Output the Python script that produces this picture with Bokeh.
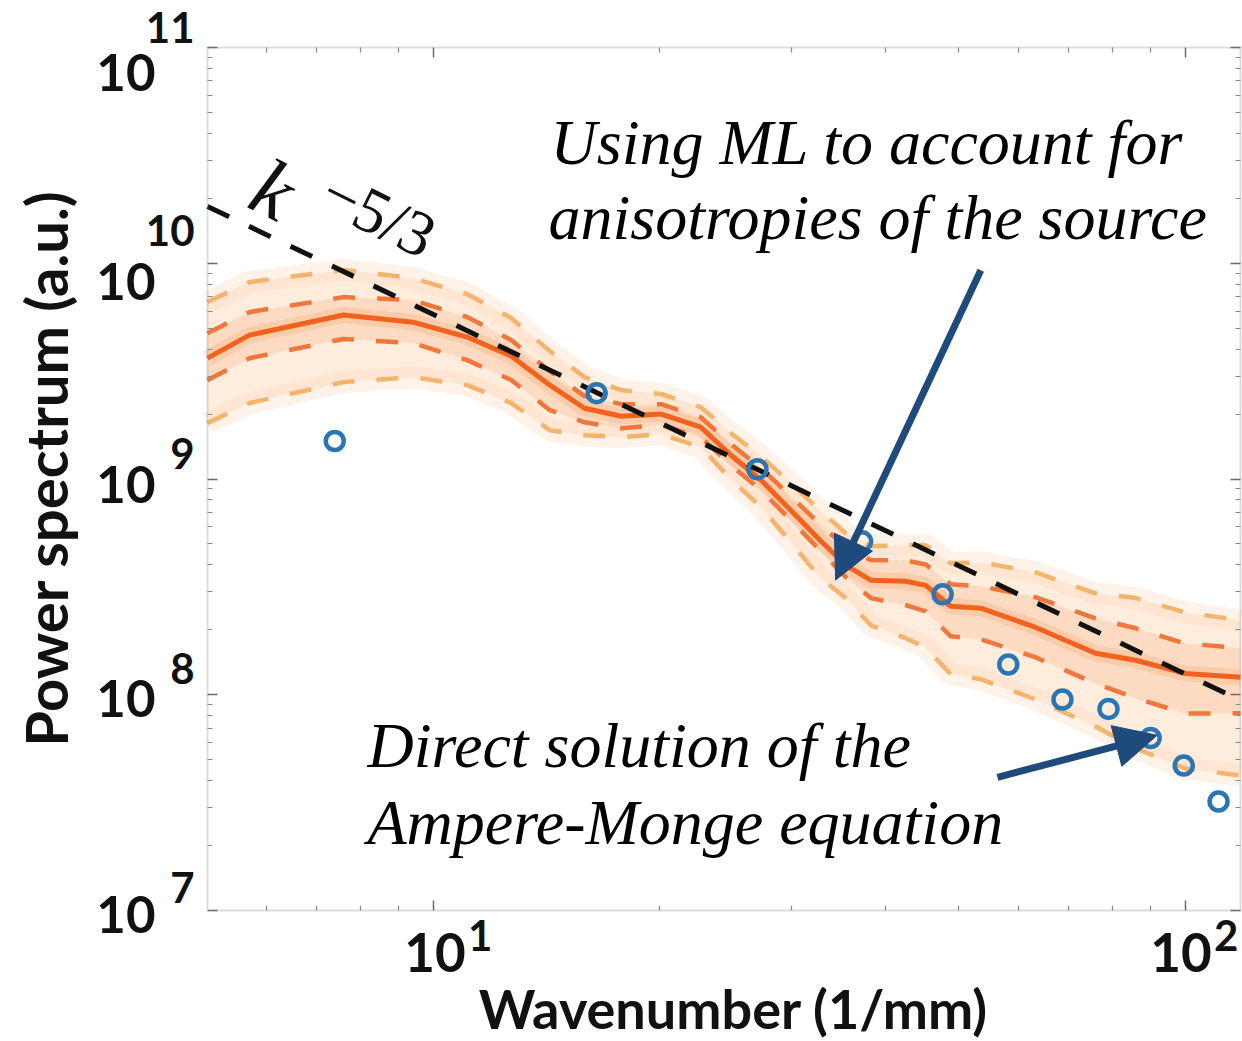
import numpy as np
from bokeh.plotting import figure
from bokeh.models import Range1d, LogAxis, FixedTicker, Label, Arrow, NormalHead, BoxAnnotation
from bokeh.embed import file_html
from bokeh.resources import INLINE

# ---------------- data ----------------
band_k = [5.01, 5.7, 7.6, 9.4, 11.1, 12.7, 14.3, 15.9, 17.8, 20.1, 22.7, 24.9, 27.3,
          29.9, 32.7, 35.4, 38.2, 42.5, 45.2, 48.8, 53.5, 63.2, 76.0, 86.0, 100.0, 118.5]
ml_mean_log10 = [9.560, 9.667, 9.760, 9.727, 9.658, 9.570, 9.435, 9.328, 9.291, 9.301,
                 9.240, 9.110, 8.994, 8.855, 8.716, 8.600, 8.531, 8.526, 8.507, 8.410,
                 8.401, 8.313, 8.192, 8.160, 8.099, 8.081]
ml_inner_up_log10 = [9.676, 9.774, 9.843, 9.829, 9.751, 9.644, 9.500, 9.384, 9.347, 9.347,
                     9.286, 9.161, 9.050, 8.920, 8.790, 8.683, 8.624, 8.623, 8.604, 8.512,
                     8.503, 8.452, 8.354, 8.308, 8.238, 8.216]
ml_inner_low_log10 = [9.458, 9.560, 9.649, 9.630, 9.551, 9.459, 9.319, 9.263, 9.235, 9.250,
                      9.194, 9.064, 8.948, 8.809, 8.670, 8.544, 8.448, 8.415, 8.386, 8.271,
                      8.257, 8.174, 8.053, 7.984, 7.913, 7.914]
ml_outer_up_log10 = [9.820, 9.913, 9.969, 9.931, 9.857, 9.746, 9.593, 9.472, 9.412, 9.394,
                     9.333, 9.212, 9.105, 8.980, 8.855, 8.748, 8.689, 8.693, 8.693, 8.609,
                     8.614, 8.568, 8.470, 8.448, 8.382, 8.345]
ml_outer_low_log10 = [9.259, 9.352, 9.449, 9.472, 9.435, 9.352, 9.226, 9.203, 9.194, 9.208,
                      9.147, 8.999, 8.869, 8.707, 8.544, 8.447, 8.322, 8.262, 8.219, 8.095,
                      8.072, 7.979, 7.853, 7.752, 7.658, 7.626]

direct_k = [7.4, 16.5, 27.0, 37.2, 47.6, 58.2, 68.7, 79.1, 90.0, 99.6, 110.8]
direct_p = [1.50e9, 2.50e9, 1.11e9, 5.14e8, 2.92e8, 1.38e8, 9.5e7, 8.6e7, 6.3e7, 4.7e7, 3.2e7]

X0, X1 = 5.012, 118.5        # axis limits (wavenumber)
Y0, Y1 = 1e7, 1e11           # axis limits (power)
ref_k = [X0, X1]
ref_coeff = 2.69e11          # k^-5/3 reference line amplitude
ref_slope = -5.0 / 3.0

x_major = [10, 100]
x_minor = [6, 7, 8, 9, 20, 30, 40, 50, 60, 70, 80, 90]
y_major = [1e7, 1e8, 1e9, 1e10, 1e11]
y_minor = [m * 10.0 ** e for e in range(7, 11) for m in range(2, 10)]
y_exp = ["7", "8", "9", "10", "11"]
x_exp = ["1", "2"]

mean = 10 ** np.array(ml_mean_log10)
iu = 10 ** np.array(ml_inner_up_log10)
il = 10 ** np.array(ml_inner_low_log10)
ou = 10 ** np.array(ml_outer_up_log10)
ol = 10 ** np.array(ml_outer_low_log10)
ref_p = [ref_coeff * k ** ref_slope for k in ref_k]

# ---------------- layout: the axes box sits inside a full-canvas frame ----------------
W, H = 1242, 1041
BOX_L, BOX_R, BOX_T, BOX_B = 207, 1240, 47, 910
lx0, lx1 = np.log10(X0), np.log10(X1)
ly0, ly1 = np.log10(Y0), np.log10(Y1)
ppx = (BOX_R - BOX_L) / (lx1 - lx0)
ppy = (BOX_B - BOX_T) / (ly1 - ly0)
xr = Range1d(10 ** (lx0 - BOX_L / ppx), 10 ** (lx1 + (W - BOX_R) / ppx))
yr = Range1d(10 ** (ly0 - (H - BOX_B) / ppy), 10 ** (ly1 + BOX_T / ppy))

p = figure(width=W, height=H, x_axis_type="log", y_axis_type="log",
           x_range=xr, y_range=yr, x_axis_location=None, y_axis_location=None,
           output_backend="svg", toolbar_location=None,
           min_border=0, min_border_left=0, min_border_right=0,
           min_border_top=0, min_border_bottom=0)
p.xgrid.visible = False
p.ygrid.visible = False
p.outline_line_color = None
p.background_fill_color = "white"
p.border_fill_color = "white"

axes = [(LogAxis(fixed_location=Y0), "below", True), (LogAxis(fixed_location=Y1), "above", True),
        (LogAxis(fixed_location=X0), "left", False), (LogAxis(fixed_location=X1), "right", False)]
for ax, side, is_x in axes:
    if is_x:
        ax.ticker = FixedTicker(ticks=x_major, minor_ticks=x_minor)
        ax.major_label_overrides = {t: "" for t in x_major}
    else:
        ax.ticker = FixedTicker(ticks=y_major, minor_ticks=y_minor)
        ax.major_label_overrides = {t: "" for t in y_major}
    ax.axis_line_color = None
    ax.major_tick_line_color = "#6a6a6a"
    ax.minor_tick_line_color = "#8a8a8a"
    ax.major_tick_line_width = 1.5
    ax.minor_tick_line_width = 1.2
    ax.major_tick_in = 10
    ax.major_tick_out = 0
    ax.minor_tick_in = 5
    ax.minor_tick_out = 0
    ax.major_label_standoff = 0
    p.add_layout(ax, side)

# ---------------- band ----------------
for arr in (ou, ol):
    p.line(band_k, arr, line_color="#fde6d3", line_width=22, line_alpha=0.5)
p.varea(x=band_k, y1=ol, y2=ou, fill_color="#fddcc0", fill_alpha=0.55)
p.varea(x=band_k, y1=il, y2=iu, fill_color="#fbc29c", fill_alpha=0.4)
p.line(band_k, mean, line_color="#f9a874", line_width=16, line_alpha=0.3)

p.line(band_k, ou, line_color="#f5b46c", line_width=4.5, line_dash="22 22")
p.line(band_k, ol, line_color="#f5b46c", line_width=4.5, line_dash="22 22")
p.line(band_k, iu, line_color="#f0763a", line_width=4.5, line_dash="22 22")
p.line(band_k, il, line_color="#f0763a", line_width=4.5, line_dash="22 22")
p.line(band_k, mean, line_color="#f2621e", line_width=5)

# reference slope
p.line(ref_k, ref_p, line_color="#111111", line_width=5, line_dash="24 22")

# direct solution points
p.scatter(direct_k, direct_p, size=18, marker="circle", fill_color=None,
          line_color="#2a75b3", line_width=4.5)

# axes box
p.add_layout(BoxAnnotation(left=X0, right=X1, bottom=Y0, top=Y1, fill_alpha=0,
                           fill_color=None, line_color="#8a8a8a", line_width=2))

# ---------------- arrows ----------------
navy = "#1f4a7c"
p.add_layout(Arrow(end=NormalHead(size=42, fill_color=navy, line_color=navy),
                   x_start=53.5, y_start=9.29e9, x_end=34.3, y_end=3.40e8,
                   line_color=navy, line_width=7))
p.add_layout(Arrow(end=NormalHead(size=42, fill_color=navy, line_color=navy),
                   x_start=56.3, y_start=4.14e7, x_end=91.8, y_end=6.49e7,
                   line_color=navy, line_width=7))

# ---------------- annotation texts ----------------
serif = "Liberation Serif"
for txt, x, y in [("Using ML to account for", 14.33, 2.85e10),
                  ("anisotropies of the source", 14.24, 1.28e10),
                  ("Direct solution of the", 8.18, 4.56e7),
                  ("Ampere-Monge equation", 8.18, 2.0e7)]:
    p.add_layout(Label(x=x, y=y, text=txt, text_font=serif, text_font_style="italic",
                       text_font_size="64px", text_color="#000000", y_offset=23,
                       text_align="left", text_baseline="alphabetic"))

p.add_layout(Label(x=6.135, y=2.19e10, text="k", text_font=serif, text_font_style="italic",
                   text_font_size="82px", text_align="center", text_baseline="middle",
                   angle=-0.46, text_color="#111111"))
p.add_layout(Label(x=8.645, y=1.62e10, text="\u22125/3", text_font=serif,
                   text_font_size="64px", text_align="center", text_baseline="middle",
                   angle=-0.46, text_color="#111111", x_offset=-7, y_offset=4))

# ---------------- tick labels ----------------
sans = "Lato"
base_dy = [-4, -4, -5, -18, -25]
exp_dy = [23, 26, 26, 33, 20]
for t, e, bdy, edy in zip(y_major, y_exp, base_dy, exp_dy):
    p.add_layout(Label(x=X0, y=t, text="10", x_offset=-52, y_offset=bdy,
                       text_font=sans, text_font_style="bold", text_font_size="51px",
                       text_align="right", text_baseline="middle", text_color="#111111"))
    p.add_layout(Label(x=X0, y=t, text=e, x_offset=-13, y_offset=edy,
                       text_font=sans, text_font_style="bold", text_font_size="42px",
                       text_align="right", text_baseline="middle", text_color="#111111"))

x_base_dx = [2, -4]
x_exp_dx = [47, 41]
for t, e, bdx, edx in zip(x_major, x_exp, x_base_dx, x_exp_dx):
    p.add_layout(Label(x=t, y=Y0, text="10", x_offset=bdx, y_offset=-42,
                       text_font=sans, text_font_style="bold", text_font_size="53px",
                       text_align="center", text_baseline="middle", text_color="#111111"))
    p.add_layout(Label(x=t, y=Y0, text=e, x_offset=edx, y_offset=-25,
                       text_font=sans, text_font_style="bold", text_font_size="42px",
                       text_align="center", text_baseline="middle", text_color="#111111"))

# ---------------- axis titles ----------------
p.add_layout(Label(x=X0, y=1.12e9, text="Power spectrum (a.u.)", x_offset=-162,
                   text_font=sans, text_font_style="bold", text_font_size="58px",
                   text_align="center", text_baseline="middle", angle=np.pi / 2,
                   text_color="#111111"))
p.add_layout(Label(x=25.09, y=Y0, text="Wavenumber (1/mm)", y_offset=-98,
                   text_font=sans, text_font_style="bold", text_font_size="54px",
                   text_align="center", text_baseline="middle", text_color="#111111"))

open("out.html", "w").write(file_html(p, INLINE))
